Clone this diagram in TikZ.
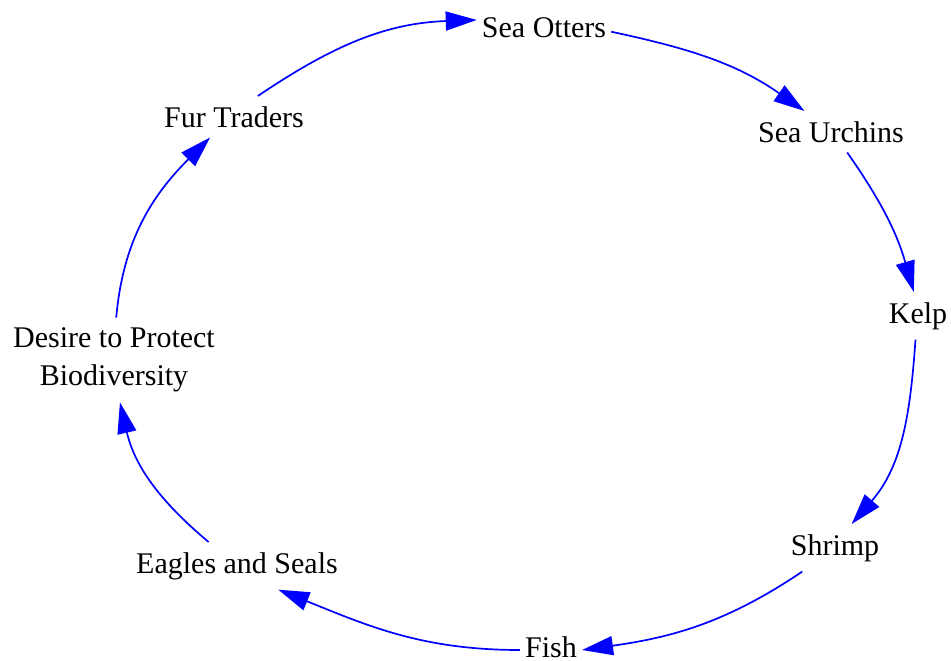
\documentclass[tikz,border=0pt]{standalone}
\usepackage{fontspec}
\setmainfont{Liberation Serif}
\usetikzlibrary{arrows.meta}
\definecolor{linkblue}{RGB}{0,0,255}
\begin{document}
\begin{tikzpicture}[x=1pt,y=1pt,
  lbl/.style={inner xsep=5pt, inner ysep=10pt, font=\fontsize{30}{38}\selectfont, text=black},
  link/.style={draw=linkblue, line width=1.7pt,
    -{Triangle[length=31pt,width=19pt,fill=linkblue]}}]
\useasboundingbox (0,0) rectangle (951,-661);
\node[lbl, anchor=base] (otters) at (544,-38) {Sea Otters};
\node[lbl, anchor=base] (urchins) at (831,-142) {Sea Urchins};
\node[lbl, anchor=base] (kelp) at (918,-323) {Kelp};
\node[lbl, anchor=base] (shrimp) at (835,-555) {Shrimp};
\node[lbl, anchor=base] (fish) at (551,-657) {Fish};
\node[lbl, anchor=base] (eagles) at (237,-573) {Eagles and Seals};
\node[lbl, align=center] (desire) at (114,-360) {Desire to Protect\\Biodiversity};
\node[lbl, anchor=base] (fur) at (234,-127) {Fur Traders};
\path[link] (fur.41) to[out=34,in=182] (otters.173);
\path[link] (otters.-3) to[out=-12,in=145] (urchins.142);
\path[link] (urchins.-52) to[out=-55,in=106] (kelp.100);
\path[link] (kelp.-96) to[out=-94,in=49] (shrimp.55);
\path[link] (shrimp.-144) to[out=-146,in=8] (fish.-6);
\path[link] (fish.186) to[out=180,in=-22] (eagles.-30);
\path[link] (eagles.140) to[out=140,in=-77] (desire.-82);
\path[link] (desire.87) to[out=85,in=225] (fur.221);
\end{tikzpicture}
\end{document}
